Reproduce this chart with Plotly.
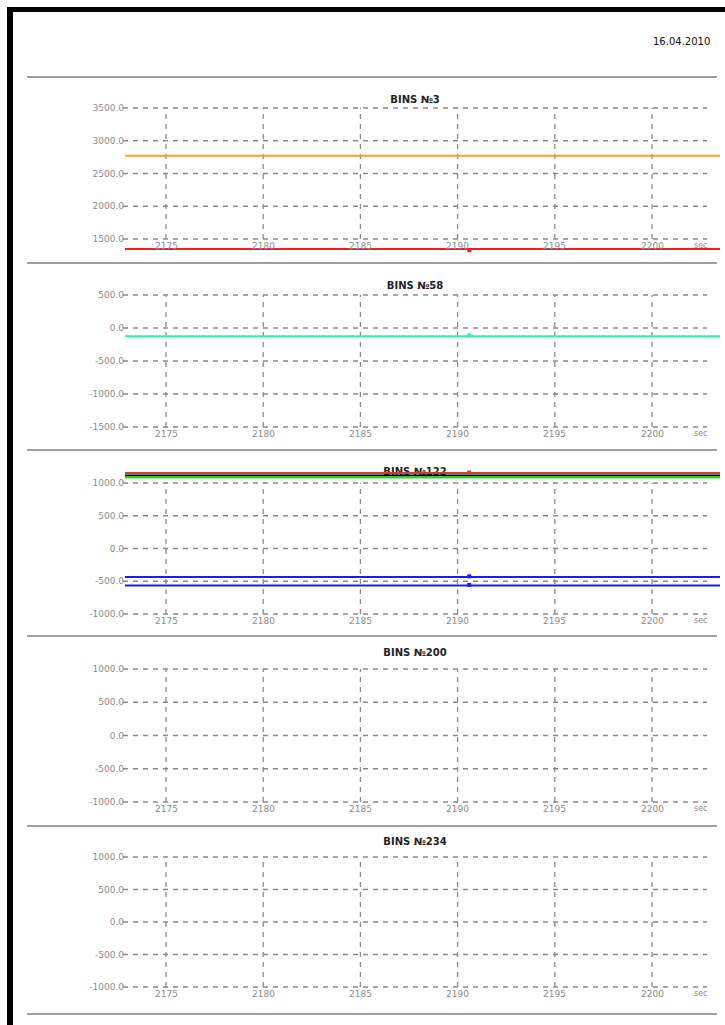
import plotly.graph_objects as go

W, H = 725, 1025

# ---------------- data ----------------
date_text = "16.04.2010"
x_ticks = [2175, 2180, 2185, 2190, 2195, 2200]
x_tick_labels = ["2175", "2180", "2185", "2190", "2195", "2200"]
x_unit = "sec"

panel_titles = ["BINS №3", "BINS №58", "BINS №122", "BINS №200", "BINS №234"]
panel_yticks = [
    [1500, 2000, 2500, 3000, 3500],
    [-1500, -1000, -500, 0, 500],
    [-1000, -500, 0, 500, 1000],
    [-1000, -500, 0, 500, 1000],
    [-1000, -500, 0, 500, 1000],
]

marker_time = 2190.6
series_panel = [0, 0, 1, 2, 2, 2, 2, 2]
series_level = [2770, 1347, -126, 1153, 1115, 1085, -435, -566]
series_marker = [None, 1330, -112, 1160, None, None, -425, -555]
series_color = ["#ffa126", "#ff1a1a", "#2ef59a", "#c4452c", "#000000",
                "#14e614", "#1a1aff", "#1a1aff"]

# ---------------- layout geometry (pixels) ----------------
x_px_dom = (125, 720)
x_px_175, x_px_200 = 166, 652
ppx = (x_px_200 - x_px_175) / (x_ticks[-1] - x_ticks[0])
x_min = x_ticks[0] - (x_px_175 - x_px_dom[0]) / ppx
x_max = x_ticks[-1] + (x_px_dom[1] - x_px_200) / ppx


def px_to_x(p):
    return x_ticks[0] + (p - x_px_175) / ppx


sep_px = [77, 263, 450, 636, 826, 1014]
top_tick_px = [108, 295, 483, 669, 857]
bot_tick_px = [239, 427, 614, 802, 987]
dom_px = [(90, 258), (274, 446), (461, 632), (647, 821), (837, 1009)]
title_px = [100, 286, 472, 653, 842]

GRID = "#8a8a8a"
LABEL = "#8c8c8c"
FONT = "DejaVu Sans, Liberation Sans, Arial, sans-serif"

fig = go.Figure()
layout = dict(width=W, height=H, margin=dict(l=0, r=0, t=0, b=0),
              paper_bgcolor="white", plot_bgcolor="white", showlegend=False,
              font=dict(family=FONT))
shapes = []
annotations = []

for i in range(5):
    n = "" if i == 0 else str(i + 1)
    ticks = panel_yticks[i]
    tv, bv = max(ticks), min(ticks)
    ppu = (bot_tick_px[i] - top_tick_px[i]) / (tv - bv)
    lo = bv - (dom_px[i][1] - bot_tick_px[i]) / ppu
    hi = tv + (top_tick_px[i] - dom_px[i][0]) / ppu

    def px_to_y(p, tv=tv, ppu=ppu, i=i):
        return tv + (top_tick_px[i] - p) / ppu

    layout["xaxis" + n] = dict(domain=[x_px_dom[0] / W, x_px_dom[1] / W], range=[x_min, x_max],
                               showgrid=False, zeroline=False, showline=False,
                               showticklabels=False, ticks="", anchor="y" + n, fixedrange=True)
    layout["yaxis" + n] = dict(domain=[1 - dom_px[i][1] / H, 1 - dom_px[i][0] / H], range=[lo, hi],
                               tickvals=ticks, ticktext=[f"{v:.1f}" for v in ticks],
                               showgrid=False, zeroline=False, showline=False, ticks="",
                               tickfont=dict(size=9, color=LABEL, family=FONT),
                               anchor="x" + n, fixedrange=True)

    # grid lines
    for v in ticks:
        shapes.append(dict(type="line", xref="paper", yref="y" + n, x0=123 / W, x1=707 / W,
                           y0=v, y1=v, layer="below",
                           line=dict(color=GRID, width=1.3, dash="5px,5px")))
    for t in x_ticks:
        shapes.append(dict(type="line", xref="x" + n, yref="y" + n, x0=t, x1=t,
                           y0=bv, y1=tv, layer="below",
                           line=dict(color=GRID, width=1.3, dash="5px,5px")))
    # x tick labels
    for t, lab in zip(x_ticks, x_tick_labels):
        annotations.append(dict(xref="x" + n, yref="y" + n, x=t, y=bv, text=lab,
                                showarrow=False, yanchor="top", yshift=0,
                                font=dict(size=9, color=LABEL, family=FONT)))
    annotations.append(dict(xref="x" + n, yref="y" + n, x=px_to_x(701), y=bv, text=x_unit,
                            showarrow=False, yanchor="top", yshift=0,
                            font=dict(size=8, color=LABEL, family=FONT)))

    # title (as text trace so data lines can cover it)
    fig.add_trace(go.Scatter(x=[px_to_x(415)], y=[px_to_y(title_px[i])], mode="text",
                             text=["<b>" + panel_titles[i] + "</b>"],
                             textfont=dict(size=10, color="#222222", family=FONT),
                             xaxis="x" + n, yaxis="y" + n, hoverinfo="skip"))

    for s in range(len(series_level)):
        if series_panel[s] != i:
            continue
        fig.add_trace(go.Scatter(x=[x_min, x_max], y=[series_level[s]] * 2, mode="lines",
                                 line=dict(color=series_color[s], width=2),
                                 xaxis="x" + n, yaxis="y" + n, hoverinfo="skip"))
    for s in range(len(series_level)):
        if series_panel[s] != i or series_marker[s] is None:
            continue
        fig.add_trace(go.Scatter(x=[marker_time], y=[series_marker[s]], mode="markers",
                                 marker=dict(color=series_color[s], size=4, symbol="square"),
                                 xaxis="x" + n, yaxis="y" + n, hoverinfo="skip"))

# separators
for p in sep_px:
    shapes.append(dict(type="line", xref="paper", yref="paper", x0=27 / W, x1=717 / W,
                       y0=1 - p / H, y1=1 - p / H, line=dict(color="#a0a0a0", width=2)))
# black page borders (top and left)
shapes.append(dict(type="rect", xref="paper", yref="paper", x0=7 / W, x1=1, y0=1 - 12 / H,
                   y1=1 - 7 / H, fillcolor="black", line=dict(width=0)))
shapes.append(dict(type="rect", xref="paper", yref="paper", x0=7 / W, x1=13 / W, y0=0,
                   y1=1 - 7 / H, fillcolor="black", line=dict(width=0)))

annotations.append(dict(xref="paper", yref="paper", x=712 / W, y=1 - 41 / H, text=date_text,
                        showarrow=False, xanchor="right", yanchor="middle",
                        font=dict(size=10, color="#111111", family=FONT)))

layout["shapes"] = shapes
layout["annotations"] = annotations
fig.update_layout(**layout)
fig.write_html("out.html", config={"displayModeBar": False},
               post_script="document.body.style.margin='0';document.body.style.overflow='hidden';")
